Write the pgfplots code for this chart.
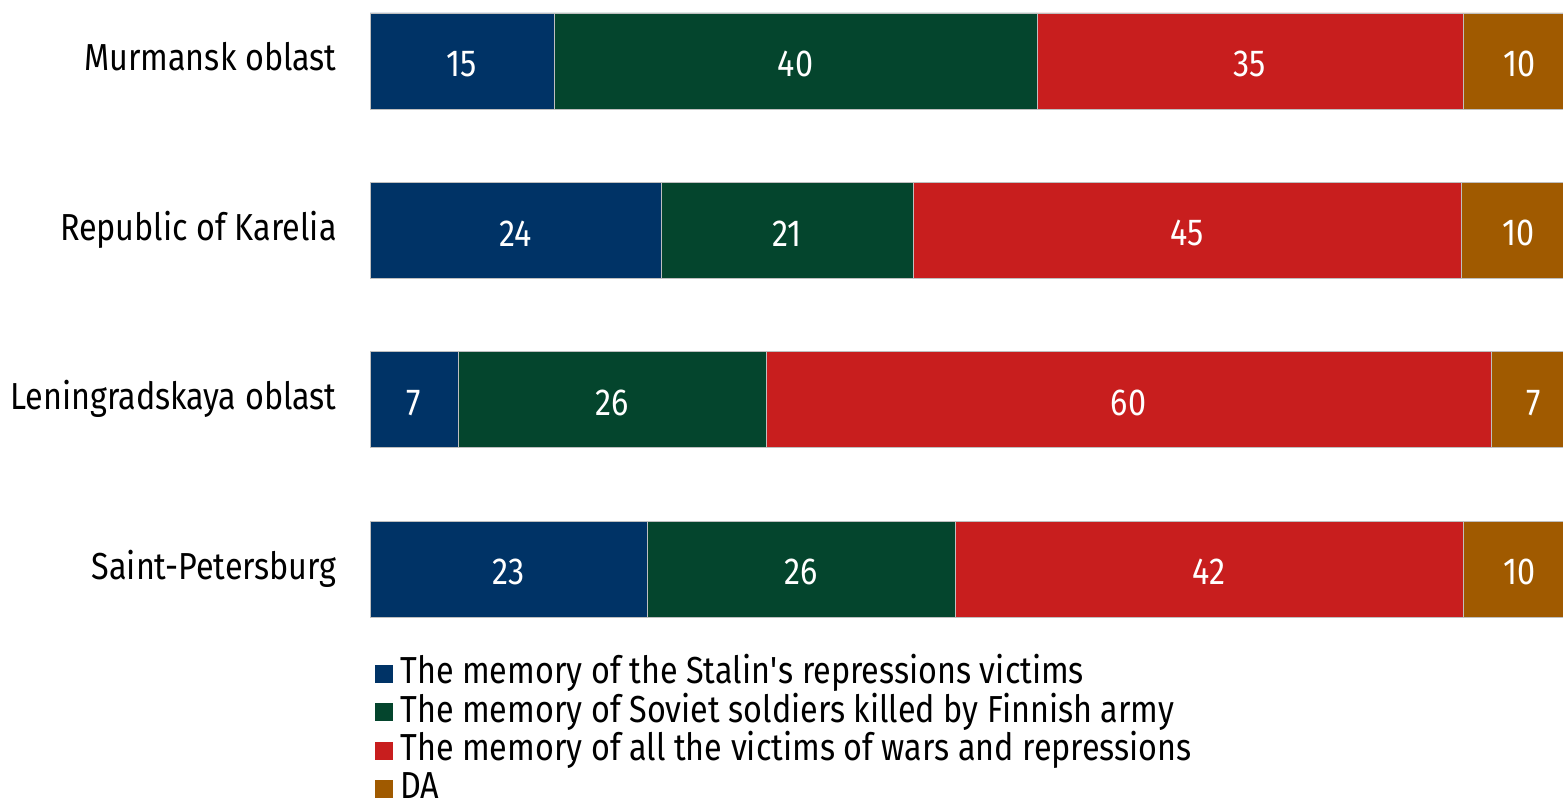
\documentclass[border=0pt]{standalone}
\usepackage{pgfplots}
\pgfplotsset{compat=1.18}
\usepackage{fontspec}
\setmainfont{Fira Sans}[FakeStretch=0.86]
\definecolor{cblue}{RGB}{0,51,102}
\definecolor{cgreen}{RGB}{4,69,45}
\definecolor{cred}{RGB}{200,30,30}
\definecolor{cda}{RGB}{160,90,0}
\newcommand{\lf}{\fontsize{18.8}{22}\selectfont}
\begin{document}
\begin{tikzpicture}
\useasboundingbox (0,0) rectangle (781.5pt,-399pt);
\begin{axis}[
  at={(185pt,0pt)}, anchor=north west,
  scale only axis, width=609.5pt, height=315pt,
  xbar stacked, bar width=48pt,
  xmin=0, xmax=101, ymin=-0.36, ymax=3.36, y dir=reverse,
  clip=true,
  axis line style={draw=none}, major tick length=0pt,
  xtick=\empty, ytick={0,1,2,3},
  yticklabels={Murmansk oblast, Republic of Karelia, Leningradskaya oblast, Saint-Petersburg},
  yticklabel style={font=\lf, anchor=base east, inner sep=0pt, xshift=-16.5pt, yshift=-5pt},
  point meta=explicit,
  nodes near coords,
  every node near coord/.append style={anchor=center, text=white, font=\lf, inner sep=0pt, yshift=-1.5pt},
  /pgf/number format/assume math mode=true,
  legend cell align=left,
  legend style={at={(0,0)}, anchor=north west, xshift=2.5pt, yshift=-12.75pt, draw=none, fill=none, inner sep=0pt, font=\lf, row sep=1.15pt, nodes={inner sep=0pt, text height=14pt, text depth=4pt}},
  /tikz/every odd column/.style={column sep=3.5pt},
  legend image code/.code={\fill[#1,draw=none] (0pt,-4.5pt) rectangle (9pt,4.5pt);},
]
\addplot[fill=cblue, draw=black!25, line width=0.3pt] coordinates {(15.24,0) [15] (24.11,1) [24] (7.29,2) [7] (22.95,3) [23]};
\addplot[fill=cgreen, draw=black!25, line width=0.3pt] coordinates {(40.02,0) [40] (20.88,1) [21] (25.52,2) [26] (25.52,3) [26]};
\addplot[fill=cred, draw=black!25, line width=0.3pt] coordinates {(35.29,0) [35] (45.40,1) [45] (60.07,2) [60] (42.09,3) [42]};
\addplot[fill=cda, draw=black!25, line width=0.3pt] coordinates {(9.45,0) [10] (9.61,1) [10] (7.12,2) [7] (9.44,3) [10]};
\legend{The memory of the Stalin\textquotesingle s repressions victims, The memory of Soviet soldiers killed by Finnish army, The memory of all the victims of wars and repressions, DA}
\end{axis}
\end{tikzpicture}
\end{document}
